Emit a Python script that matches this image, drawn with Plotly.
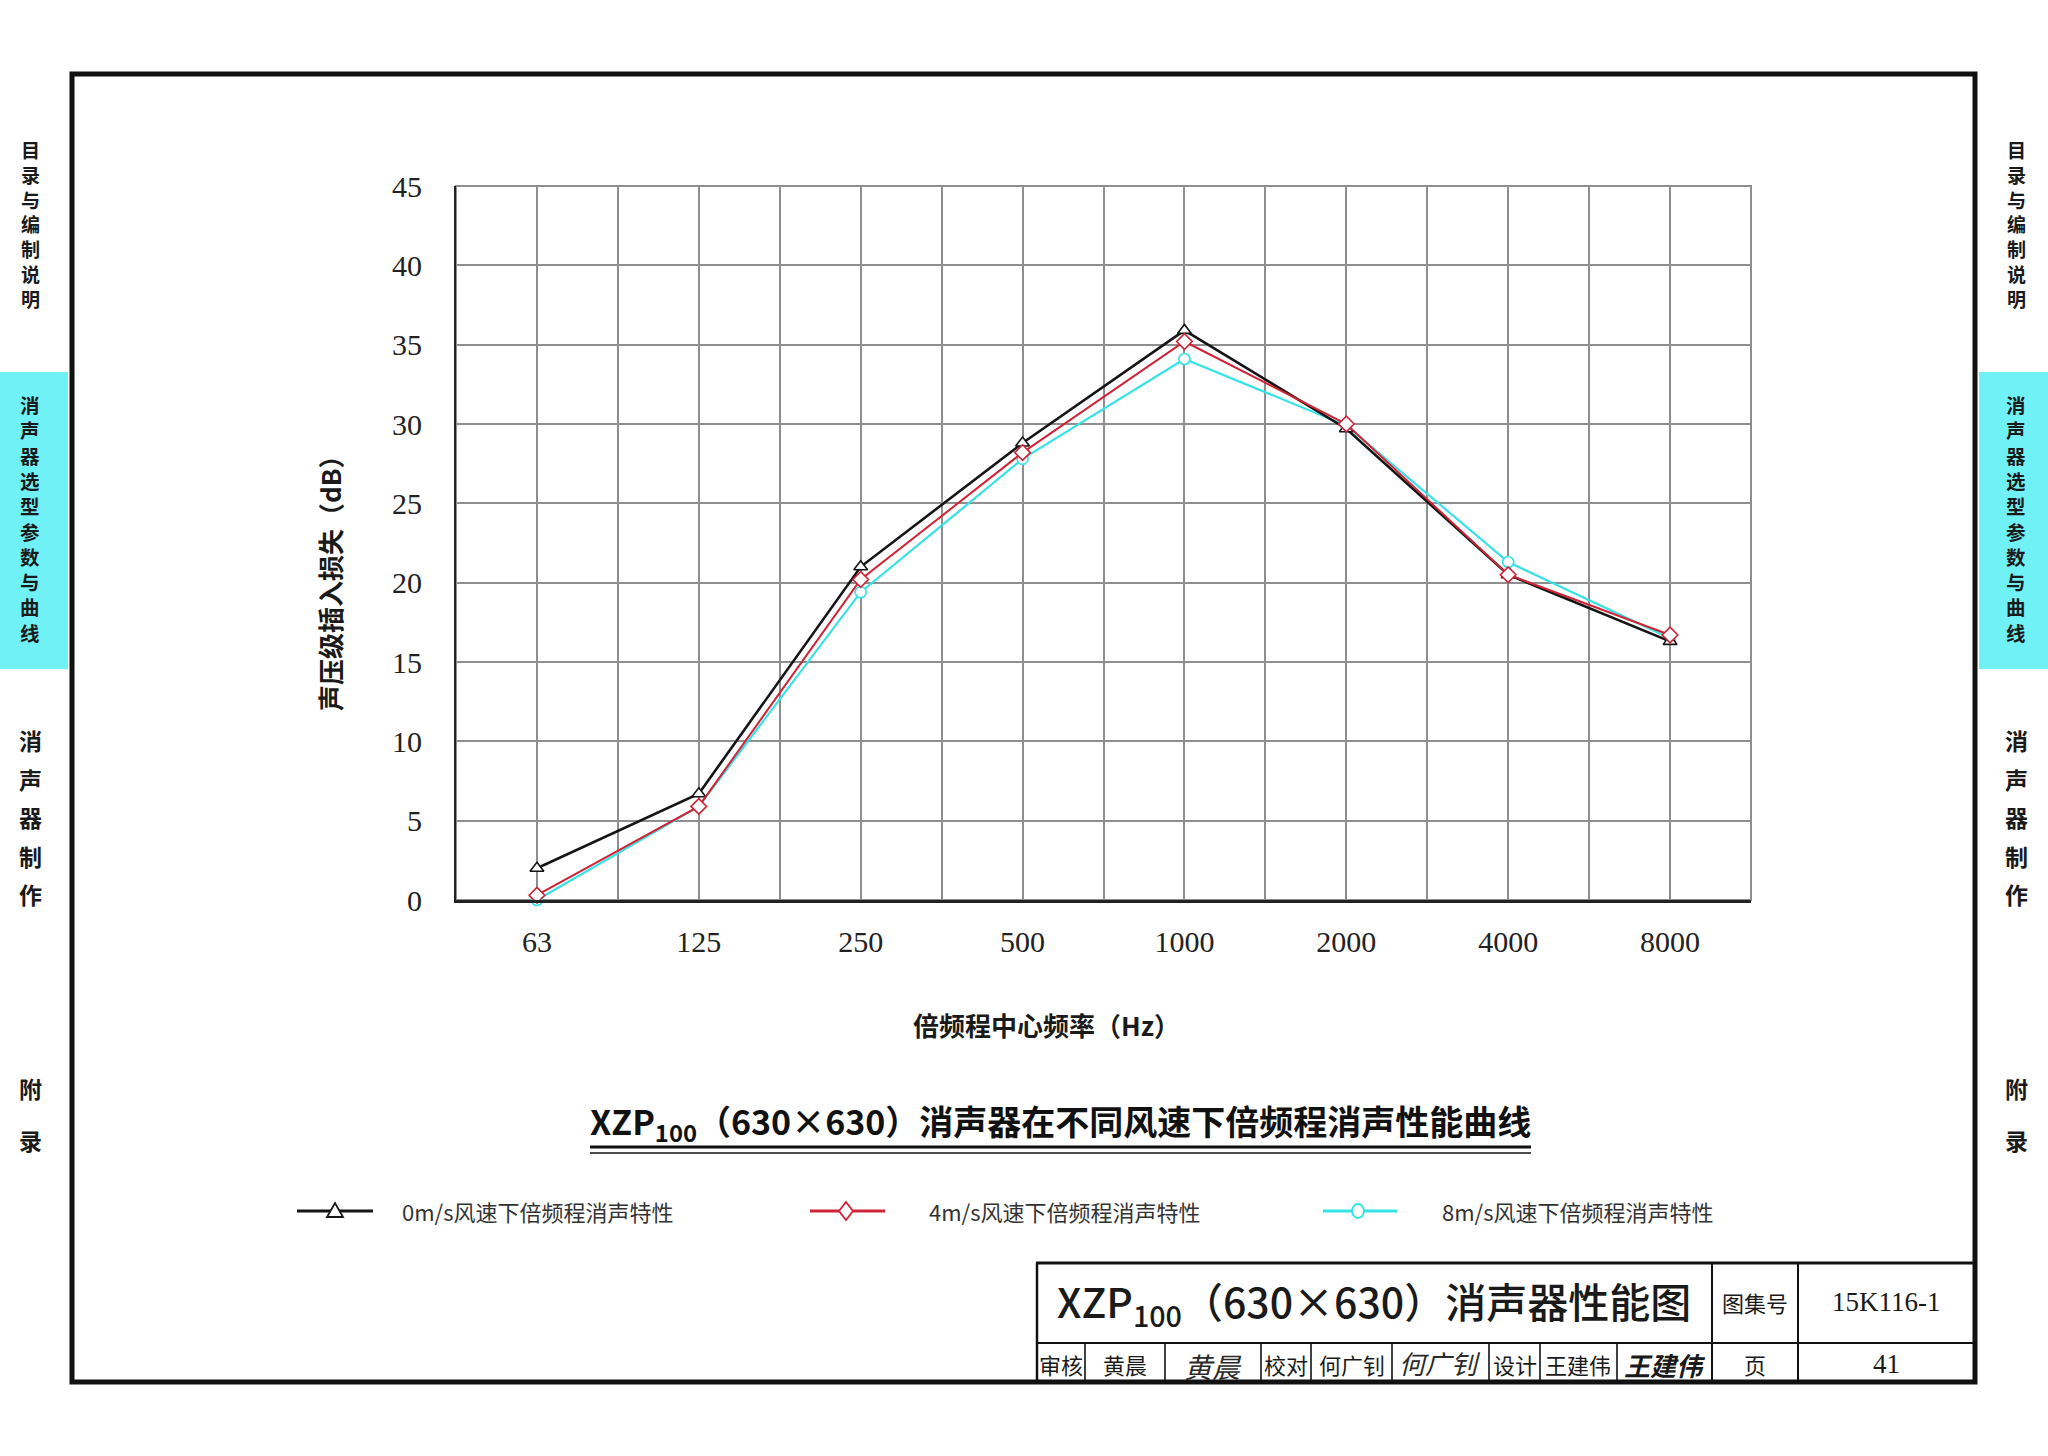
import plotly.graph_objects as go

# ---------------- data ----------------
freqs = ["63", "125", "250", "500", "1000", "2000", "4000", "8000"]
il_0ms = [2.0, 6.7, 21.0, 28.8, 35.9, 29.7, 20.5, 16.3]
il_4ms = [0.3, 5.9, 20.2, 28.2, 35.2, 30.0, 20.5, 16.7]
il_8ms = [0.0, 5.9, 19.4, 27.8, 34.1, 29.9, 21.3, 16.5]
series_names = ["0m/s风速下倍频程消声特性", "4m/s风速下倍频程消声特性", "8m/s风速下倍频程消声特性"]
y_tick_vals = [0, 5, 10, 15, 20, 25, 30, 35, 40, 45]

chart_title = "XZP<sub>100</sub>（630×630）消声器在不同风速下倍频程消声性能曲线"
block_title = "XZP<sub>100</sub>（630×630）消声器性能图"
x_title = "倍频程中心频率（Hz）"
y_title = "声压级插入损失（dB）"

# ---------------- page geometry helpers ----------------
W, H = 2048, 1456
def px(x): return x / W
def py(y): return 1 - y / H

CJK = "Noto Sans CJK SC"
SERIF = "Liberation Serif"
BLACK = "#151515"
RED = "#cf2336"
CYAN = "#35e3e6"
GRID = "#8e8e8e"

xs = list(range(len(freqs)))

fig = go.Figure()
styles = [
    (il_8ms, series_names[2], CYAN, "circle", 11, 2.2),
    (il_0ms, series_names[0], BLACK, "triangle-up", 12, 2.6),
    (il_4ms, series_names[1], RED, "diamond", 12, 2.0),
]
for vals, name, col, sym, size, lw in styles:
    fig.add_trace(go.Scatter(
        x=xs, y=vals, name=name, mode="lines+markers",
        line=dict(color=col, width=lw),
        marker=dict(symbol=sym, size=size, color="white", line=dict(color=col, width=1.6)),
        cliponaxis=False, showlegend=False,
    ))

shapes = []
annotations = []

# plot frame (gray top/right)
shapes.append(dict(type="rect", xref="x domain", yref="y domain", x0=0, x1=1, y0=0, y1=1,
                   line=dict(color=GRID, width=2), layer="below"))

# outer border
shapes.append(dict(type="rect", xref="paper", yref="paper", x0=px(72), x1=px(1975), y0=py(74), y1=py(1382),
                   line=dict(color="#111", width=5)))
# side cyan tabs
for x0, x1 in [(0, 68), (1979, 2048)]:
    shapes.append(dict(type="rect", xref="paper", yref="paper", x0=px(x0), x1=px(x1), y0=py(372), y1=py(669),
                       fillcolor="#6ff1f6", line=dict(width=0), layer="below"))

# side text
def vblock(text, xc, ytop, spacing, weight):
    size = spacing / 1.3
    n = len(text)
    yc = ytop + spacing * n / 2
    annotations.append(dict(text="<br>".join(text), xref="paper", yref="paper", x=px(xc), y=py(yc),
                            showarrow=False, xanchor="center", yanchor="middle", align="center",
                            font=dict(family=CJK, size=size, color="#1a1a1a", weight=weight)))

def vchars(text, xc, ycs, size, weight):
    for ch, yc in zip(text, ycs):
        annotations.append(dict(text=ch, xref="paper", yref="paper", x=px(xc), y=py(yc),
                                showarrow=False, xanchor="center", yanchor="middle",
                                font=dict(family=CJK, size=size, color="#1a1a1a", weight=weight)))

for xc in (30, 2016):
    vblock("目录与编制说明", xc, 137, 24.8, 700)
    vblock("消声器选型参数与曲线", xc, 392, 25.3, 700)
    vchars("消声器制作", xc, [740 + 38.5 * i for i in range(5)], 23, 700)
    vchars("附录", xc, [1088, 1140], 23, 700)

# axis titles
annotations.append(dict(text=x_title, xref="paper", yref="paper", x=px(1046), y=py(1024),
                        showarrow=False, xanchor="center", yanchor="middle",
                        font=dict(family=CJK, size=26, color="#1a1a1a", weight=700)))
annotations.append(dict(text=y_title, xref="paper", yref="paper", x=px(330), y=py(577), textangle=-90,
                        showarrow=False, xanchor="center", yanchor="middle",
                        font=dict(family=CJK, size=26, color="#1a1a1a", weight=700)))

# chart title + double underline
annotations.append(dict(text=chart_title, xref="paper", yref="paper", x=px(1060), y=py(1122),
                        showarrow=False, xanchor="center", yanchor="middle",
                        font=dict(family=CJK, size=34, color="#111", weight=700)))
shapes.append(dict(type="line", xref="paper", yref="paper", x0=px(590), x1=px(1531), y0=py(1147), y1=py(1147),
                   line=dict(color="#111", width=3)))
shapes.append(dict(type="line", xref="paper", yref="paper", x0=px(590), x1=px(1531), y0=py(1153), y1=py(1153),
                   line=dict(color="#111", width=1.5)))

# legend (drawn manually)
ly = 1211
legend_items = [
    (series_names[0], BLACK, "tri", 297, 373, 335, 400),
    (series_names[1], RED, "dia", 810, 885, 846, 927),
    (series_names[2], CYAN, "cir", 1323, 1397, 1358, 1440),
]
for name, col, sym, l0, l1, mc, tx in legend_items:
    shapes.append(dict(type="line", xref="paper", yref="paper", x0=px(l0), x1=px(l1), y0=py(ly), y1=py(ly),
                       line=dict(color=col, width=3)))
    if sym == "tri":
        path = f"M {px(mc-8)},{py(ly+6)} L {px(mc+8)},{py(ly+6)} L {px(mc)},{py(ly-8)} Z"
        shapes.append(dict(type="path", xref="paper", yref="paper", path=path,
                           fillcolor="white", line=dict(color=col, width=1.8)))
    elif sym == "dia":
        path = f"M {px(mc)},{py(ly-9)} L {px(mc+7)},{py(ly)} L {px(mc)},{py(ly+9)} L {px(mc-7)},{py(ly)} Z"
        shapes.append(dict(type="path", xref="paper", yref="paper", path=path,
                           fillcolor="white", line=dict(color=col, width=1.8)))
    else:
        shapes.append(dict(type="circle", xref="paper", yref="paper", x0=px(mc-6), x1=px(mc+6),
                           y0=py(ly+7), y1=py(ly-7), fillcolor="white", line=dict(color=col, width=1.8)))
    annotations.append(dict(text=name, xref="paper", yref="paper", x=px(tx), y=py(ly),
                            showarrow=False, xanchor="left", yanchor="middle",
                            font=dict(family=CJK, size=22, color="#333")))

# title block
def hline(x0, x1, y, w):
    shapes.append(dict(type="line", xref="paper", yref="paper", x0=px(x0), x1=px(x1), y0=py(y), y1=py(y),
                       line=dict(color="#111", width=w)))
def vline(x, y0, y1, w):
    shapes.append(dict(type="line", xref="paper", yref="paper", x0=px(x), x1=px(x), y0=py(y0), y1=py(y1),
                       line=dict(color="#111", width=w)))

hline(1036, 1975, 1263, 3)
hline(1036, 1975, 1343, 2)
vline(1037, 1263, 1382, 2.5)
vline(1712, 1263, 1382, 2)
vline(1798, 1263, 1382, 2)
for xv in [1085, 1165, 1261, 1311, 1392, 1489, 1540, 1617]:
    vline(xv, 1343, 1382, 1.6)

def txt(t, x, y, size, family=CJK, weight=400, style="normal", color="#1a1a1a"):
    annotations.append(dict(text=t, xref="paper", yref="paper", x=px(x), y=py(y),
                            showarrow=False, xanchor="center", yanchor="middle",
                            font=dict(family=family, size=size, color=color, weight=weight, style=style)))

txt(block_title, 1374, 1302, 41, weight=500)
txt("图集号", 1755, 1302, 22)
txt("15K116-1", 1886, 1302, 27, family=SERIF)
ry = 1364
txt("审核", 1061, ry, 22)
txt("黄晨", 1125, ry, 22)
txt("黄晨", 1213, ry + 2, 28, style="italic", color="#2a2a2a")
txt("校对", 1286, ry, 22)
txt("何广钊", 1352, ry, 22)
txt("何广钊", 1440, ry - 2, 26, style="italic", color="#2a2a2a")
txt("设计", 1515, ry, 22)
txt("王建伟", 1578, ry, 22)
txt("王建伟", 1665, ry, 26, style="italic", weight=700, color="#1a1a1a")
txt("页", 1755, ry, 22)
txt("41", 1886, ry, 27, family=SERIF)

fig.update_layout(
    width=W, height=H,
    margin=dict(l=0, r=0, t=0, b=0, pad=0, autoexpand=False),
    paper_bgcolor="white", plot_bgcolor="white",
    showlegend=False,
    shapes=shapes, annotations=annotations,
    xaxis=dict(
        domain=[px(456), px(1751)], range=[-0.5, 7.5], automargin=False,
        tickmode="array", tickvals=xs, ticktext=freqs,
        showgrid=True, gridcolor=GRID, gridwidth=1.6,
        minor=dict(dtick=0.5, tick0=-0.5, showgrid=True, gridcolor=GRID, gridwidth=1.6, ticks=""),
        showline=True, linecolor="#222", linewidth=3,
        zeroline=False, ticks="", ticklabelstandoff=13,
        tickfont=dict(family=SERIF, size=30, color="#222"),
    ),
    yaxis=dict(
        domain=[1 - 900 / H, 1 - 186 / H], range=[0, 45], automargin=False,
        tickmode="array", tickvals=y_tick_vals,
        showgrid=True, gridcolor=GRID, gridwidth=1.6,
        showline=True, linecolor="#222", linewidth=2,
        zeroline=False, ticks="", ticklabelstandoff=26,
        tickfont=dict(family=SERIF, size=30, color="#222"),
    ),
)

fig.write_html("out.html")
